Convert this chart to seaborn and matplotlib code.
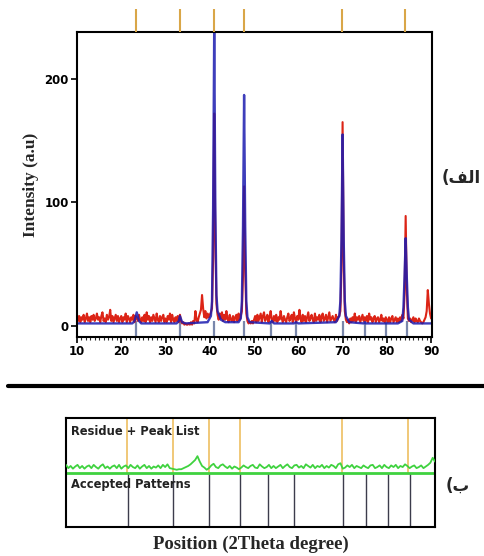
import numpy as np
import pandas as pd
import matplotlib
matplotlib.use("Agg")
import matplotlib.pyplot as plt
from matplotlib.lines import Line2D
from matplotlib.ticker import MultipleLocator
import seaborn as sns

# ---------------- data ----------------
scan_start, scan_step = 10.0, 0.25
observed = [
    9, 4, 8, 3, 7, 5, 9, 3, 6, 10, 4, 7, 3, 8, 5, 9, 4, 6, 10, 5,        # 10-14.75
    7, 3, 8, 11, 4, 6, 3, 9, 5, 7, 13, 4, 8, 3, 6, 9, 4, 8, 3, 6,        # 15-19.75
    8, 3, 7, 5, 10, 3, 8, 6, 3, 7, 5, 9, 3, 8, 6, 4, 9, 5, 3, 7,         # 20-24.75
    4, 9, 3, 11, 5, 8, 3, 7, 4, 9, 6, 3, 10, 5, 3, 8, 4, 7, 9, 3,        # 25-29.75
    6, 3, 8, 5, 10, 3, 9, 5, 3, 7, 4, 8, 3, 9, 4, 2, 3, 1, 2, 1,         # 30-34.75
    1, 2, 1, 3, 1, 4, 2, 12, 5, 3, 7, 10, 13, 25, 14, 7, 12, 6, 10, 7,   # 35-39.75
    9, 11, 14, 55, 172, 70, 18, 9, 5, 10, 6, 11, 4, 9, 5, 12, 6, 3, 9, 5,  # 40-44.75
    4, 8, 3, 7, 9, 4, 10, 5, 8, 12, 40, 113, 45, 10, 4, 2, 3, 2, 4, 2,   # 45-49.75
    5, 8, 3, 9, 4, 7, 10, 3, 8, 11, 4, 6, 9, 3, 7, 12, 5, 3, 8, 4,       # 50-54.75
    9, 3, 7, 5, 12, 6, 3, 8, 5, 3, 7, 10, 4, 6, 9, 3, 11, 6, 3, 8,       # 55-59.75
    5, 13, 6, 3, 9, 4, 8, 3, 7, 11, 4, 6, 9, 5, 3, 10, 4, 7, 5, 9,       # 60-64.75
    3, 7, 10, 4, 6, 9, 3, 7, 11, 4, 6, 8, 5, 3, 9, 4, 7, 8, 12, 45,      # 65-69.75
    165, 55, 12, 5, 3, 5, 2, 6, 3, 7, 4, 10, 3, 7, 5, 8, 3, 6, 9, 4,     # 70-74.75
    7, 4, 8, 3, 10, 5, 7, 3, 6, 8, 3, 6, 7, 3, 5, 9, 4, 6, 3, 7,         # 75-79.75
    5, 3, 7, 3, 6, 8, 3, 5, 7, 3, 6, 3, 7, 4, 9, 6, 25, 89, 30, 6,       # 80-84.75
    4, 6, 3, 5, 7, 3, 6, 4, 3, 6, 4, 3, 2, 3, 5, 7, 12, 29, 18, 10,      # 85-89.75
    6,                                                                   # 90
]
two_theta = np.round(scan_start + scan_step * np.arange(len(observed)), 2)

calc_x = [10, 22.5, 23.0, 23.5, 24.0, 24.5, 32.5, 33.0, 33.25, 33.75, 34.5,
          39.5, 40.25, 40.5, 40.75, 41.0, 41.25, 41.5, 41.75, 42.5, 43.5,
          46.5, 47.0, 47.25, 47.5, 47.75, 48.0, 48.25, 48.5, 49.0,
          53.5, 54.0, 54.5, 59.0, 59.5, 60.0,
          68.5, 69.25, 69.5, 69.75, 70.0, 70.25, 70.5, 70.75, 71.5,
          74.75, 75.0, 75.25, 82.5, 83.5, 83.75, 84.0, 84.25, 84.5, 84.75, 85.0, 86.0, 90.0]
calc_y = [2, 2, 4, 11, 4, 2, 2, 4, 8, 3, 2,
          3, 8, 20, 95, 242, 95, 25, 12, 5, 3,
          3, 6, 20, 80, 187, 80, 20, 7, 3,
          2, 4, 2, 2, 3, 2,
          3, 8, 20, 70, 155, 70, 20, 8, 3,
          2, 3, 2, 2, 4, 15, 40, 71, 40, 15, 5, 2, 2]

peak_list = [23.3, 33.2, 41.0, 47.8, 69.9, 84.1]
accepted_pattern = [23.4, 33.3, 41.0, 47.8, 53.9, 59.5, 70.1, 75.0, 79.9, 84.5]

resid_start, resid_step = 10.0, 0.5
residue = [
    .14, .08, .12, .07, .11, .14, .08, .12, .07, .11,
    .13, .08, .14, .10, .07, .12, .15, .08, .11, .07,
    .11, .13, .08, .14, .07, .11, .13, .08, .14, .10,
    .08, .13, .07, .11, .14, .08, .12, .07, .11, .09,
    .13, .08, .14, .10, .15, .08, .07, .06, .05, .06,
    .06, .08, .10, .12, .15, .19, .23, .30, .20, .12,
    .09, .05, .08, .13, .16, .10, .08, .13, .15, .11,
    .08, .12, .07, .11, .09, .06, .09, .13, .10, .08,
    .12, .14, .09, .08, .15, .11, .08, .10, .14, .08,
    .12, .08, .11, .14, .08, .12, .15, .10, .08, .13,
    .14, .09, .12, .08, .15, .12, .09, .14, .08, .12,
    .10, .14, .08, .12, .09, .14, .12, .08, .15, .17,
    .07, .09, .13, .10, .14, .08, .12, .10, .08, .13,
    .10, .08, .13, .14, .08, .10, .13, .08, .14, .10,
    .08, .13, .10, .14, .08, .12, .10, .15, .12, .08,
    .11, .13, .08, .10, .13, .08, .11, .14, .18, .27,
    .20,
]
resid_x = np.round(resid_start + resid_step * np.arange(len(residue)), 2)

x_ticks = [10, 20, 30, 40, 50, 60, 70, 80, 90]
y_ticks = [0, 100, 200]

obs_df = pd.DataFrame({"2theta": two_theta, "I": observed})
calc_df = pd.DataFrame({"2theta": calc_x, "I": calc_y})
res_df = pd.DataFrame({"2theta": resid_x, "r": residue})

# ---------------- style ----------------
sns.set_theme(style="white")
plt.rcParams["font.family"] = ["DejaVu Sans"]

RED = "#dc2416"
BLUE = "#1c1cb0"
ORANGE = "#d9a648"
STICK = "#6a7aa2"
GREEN = "#3fd23f"

fig = plt.figure(figsize=(4.84, 5.56), dpi=100)
W, H = 484.0, 556.0

# ---------------- top panel ----------------
ax = fig.add_axes([77 / W, 1 - 337 / H, (432 - 77) / W, (337 - 32) / H])
sns.lineplot(data=obs_df, x="2theta", y="I", ax=ax, color=RED, lw=1.5,
             estimator=None, sort=False)
sns.lineplot(data=calc_df, x="2theta", y="I", ax=ax, color=BLUE, lw=1.7,
             estimator=None, sort=False, alpha=0.85)
ax.vlines(accepted_pattern, -9, 4, color=STICK, lw=1.6, alpha=0.9, zorder=1)
ax.set_xlim(10, 90.2)
ax.set_ylim(-9, 238)
ax.set_xticks(x_ticks)
ax.set_yticks(y_ticks)
ax.xaxis.set_minor_locator(MultipleLocator(1))
ax.tick_params(axis="both", which="major", direction="out", length=4, width=1.2,
               bottom=True, left=True, labelsize=8.5, pad=2, colors="black")
ax.tick_params(axis="x", which="minor", direction="out", length=2, width=0.8,
               bottom=True)
for lab in ax.get_xticklabels() + ax.get_yticklabels():
    lab.set_fontweight("bold")
for sp in ax.spines.values():
    sp.set_color("black")
    sp.set_linewidth(1.5)
ax.set_xlabel("")
ax.set_ylabel("Intensity (a.u)", fontsize=12.5, fontweight="bold",
              family="Liberation Serif", labelpad=4)

# peak list markers above the top panel
axp = fig.add_axes([77 / W, 1 - 32 / H, (432 - 77) / W, 23 / H])
axp.vlines(peak_list, 0, 1, color=ORANGE, lw=1.5)
axp.set_xlim(10, 90.2)
axp.set_ylim(0, 1)
axp.axis("off")

# separator line
fig.add_artist(Line2D([8 / W, 1.0], [1 - 386 / H, 1 - 386 / H], color="black", lw=3))

# ---------------- bottom panel ----------------
axb = fig.add_axes([66 / W, 1 - 527 / H, (435 - 66) / W, (527 - 418) / H])
axb.vlines(peak_list, 0, 1, color="#f0c878", lw=1.4, zorder=1)
axb.vlines(accepted_pattern, -1, 0, color="#3c3c4c", lw=1.0, zorder=1)
axb.axhline(0, color=GREEN, lw=2.0, zorder=2)
sns.lineplot(data=res_df, x="2theta", y="r", ax=axb, color=GREEN, lw=1.3,
             estimator=None, sort=False, zorder=3)
axb.set_xlim(10, 90)
axb.set_ylim(-1, 1)
axb.set_xticks([])
axb.set_yticks([])
axb.set_ylabel("")
for sp in axb.spines.values():
    sp.set_color("black")
    sp.set_linewidth(1.5)
axb.text(0.013, 0.94, "Residue + Peak List", transform=axb.transAxes,
         ha="left", va="top", fontsize=8.3, fontweight="bold", color="#222222")
axb.text(0.013, 0.45, "Accepted Patterns", transform=axb.transAxes,
         ha="left", va="top", fontsize=8.3, fontweight="bold", color="#222222")
axb.set_xlabel("Position (2Theta degree)", fontsize=13.5, fontweight="bold",
               family="Liberation Serif", labelpad=6)

# panel labels (Arabic, shaped glyphs in visual order)
fig.text(461 / W, 1 - 178 / H, "(\uFED2\uFEDF\uFE8D", ha="center", va="center",
         fontsize=12, fontweight="bold", family=["DejaVu Sans"])
fig.text(458 / W, 1 - 486 / H, "(\uFE8F", ha="center", va="center",
         fontsize=12, fontweight="bold", family=["DejaVu Sans"])

fig.savefig("out.png", dpi=100)
